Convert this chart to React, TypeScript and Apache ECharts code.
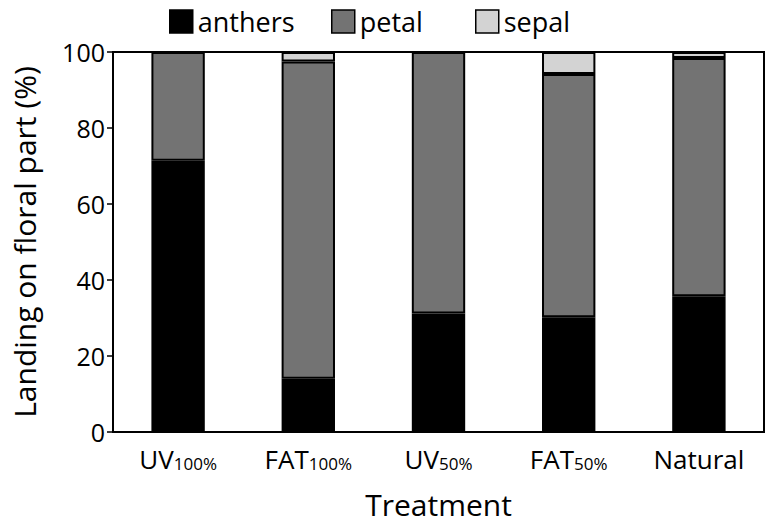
import React, { useEffect, useRef } from "react";
import * as echarts from "echarts";

const categories = ["UV|100%", "FAT|100%", "UV|50%", "FAT|50%", "Natural|"];
const anthers = [71.4, 14.0, 31.2, 30.2, 35.7];
const petal = [28.6, 83.5, 68.8, 64.0, 62.7];
const sepal = [null, 2.5, null, 5.8, 1.6];
const seriesNames = ["anthers", "petal", "sepal"];
const seriesColors = ["#000000", "#737373", "#d3d3d3"];
const yTicks = [0, 20, 40, 60, 80, 100];

const FONT = "'Open Sans', 'Noto Sans', sans-serif";
const legendLefts = [164, 326, 470];

export default function App() {
  const ref = useRef<HTMLDivElement>(null);
  useEffect(() => {
    if (!ref.current) return;
    const chart = echarts.init(ref.current, null, { renderer: "svg" });
    const values = [anthers, petal, sepal];
    chart.setOption({
      animation: false,
      textStyle: { fontFamily: FONT, color: "#000" },
      legend: seriesNames.map((n, i) => ({
        left: legendLefts[i],
        top: 3,
        itemWidth: 23,
        itemHeight: 23,
        textStyle: { fontSize: 27, fontFamily: FONT, color: "#000" },
        data: [
          {
            name: n,
            icon: "rect",
            itemStyle: { color: seriesColors[i], borderColor: "#000", borderWidth: 1.5 },
          },
        ],
      })),
      grid: {
        left: 113,
        right: 4,
        top: 52,
        bottom: 92,
        show: true,
        borderColor: "#000",
        borderWidth: 2,
        backgroundColor: "transparent",
      },
      xAxis: {
        type: "category",
        data: categories,
        name: "Treatment",
        nameLocation: "middle",
        nameGap: 57,
        nameTextStyle: { fontSize: 30, fontFamily: FONT, color: "#000" },
        axisLine: { lineStyle: { color: "#000", width: 2 } },
        axisTick: { show: false },
        axisLabel: {
          margin: 14,
          formatter: (v: string) => {
            const [a, b] = v.split("|");
            return b ? `{a|${a}}{b|${b}}` : `{a|${a}}`;
          },
          rich: {
            a: { fontSize: 26, fontFamily: FONT, color: "#000" },
            b: { fontSize: 17, fontFamily: FONT, color: "#000", verticalAlign: "bottom" },
          },
        },
      },
      yAxis: {
        type: "value",
        min: yTicks[0],
        max: yTicks[yTicks.length - 1],
        interval: 20,
        name: "Landing on floral part (%)",
        nameLocation: "middle",
        nameGap: 74,
        nameTextStyle: { fontSize: 30, fontFamily: FONT, color: "#000" },
        axisLine: { show: true, lineStyle: { color: "#000", width: 2 } },
        axisTick: { show: true, inside: false, length: 6, lineStyle: { color: "#000", width: 1.5 } },
        axisLabel: { fontSize: 25, fontFamily: FONT, color: "#000", margin: 8 },
        splitLine: { show: false },
      },
      series: seriesNames.map((n, i) => ({
        name: n,
        type: "bar",
        stack: "total",
        barWidth: "41%",
        data: values[i],
        itemStyle: { color: seriesColors[i], borderColor: "#000", borderWidth: 2 },
      })),
    });
    return () => chart.dispose();
  }, []);
  return <div ref={ref} style={{ width: 768, height: 524, position: "absolute", left: 0, top: 0 }} />;
}
